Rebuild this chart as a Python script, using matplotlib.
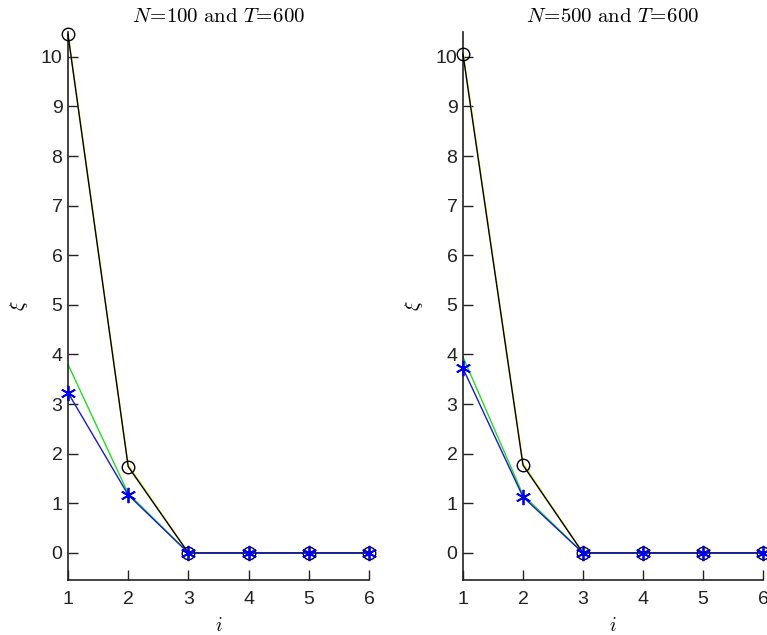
import matplotlib
matplotlib.use("Agg")
import matplotlib.pyplot as plt

plt.rcParams['mathtext.fontset'] = 'cm'

i_vals = [1, 2, 3, 4, 5, 6]

titles = [r"$N\!=\!100\ \mathrm{and}\ T\!=\!600$", r"$N\!=\!500\ \mathrm{and}\ T\!=\!600$"]

# left panel (N=100)
black_left = [10.45, 1.74, 0, 0, 0, 0]
yellow_left = [10.48, 1.77, 0, 0, 0, 0]
green_left = [3.8, 1.2, 0, 0, 0, 0]
blue_left = [3.23, 1.17, 0, 0, 0, 0]

# right panel (N=500)
black_right = [10.05, 1.77, 0, 0, 0, 0]
yellow_right = [10.1, 1.8, 0, 0, 0, 0]
green_right = [3.95, 1.17, 0, 0, 0, 0]
blue_right = [3.72, 1.13, 0, 0, 0, 0]

yticks = list(range(0, 11))
xticks = [1, 2, 3, 4, 5, 6]

fig = plt.figure(figsize=(7.67, 6.35), dpi=100)
positions = [
    [68/767, 55/635, 301/767, 548/635],
    [463/767, 55/635, 300/767, 548/635],
]
panels = [
    (black_left, yellow_left, green_left, blue_left),
    (black_right, yellow_right, green_right, blue_right),
]

for pos, title, (bk, yl, gr, bl) in zip(positions, titles, panels):
    ax = fig.add_axes(pos)
    ax.plot(i_vals, yl, color='#e8e800', lw=1.0, zorder=2)
    ax.plot(i_vals, bk, color='black', lw=1.0, marker='o', markersize=9,
            markerfacecolor='none', markeredgecolor='black', markeredgewidth=1.0, zorder=3)
    ax.plot(i_vals, gr, color='#22dd22', lw=1.0, zorder=2)
    ax.plot(i_vals, bl, color='#1a1acc', lw=1.0, marker=(6, 2, 0), markersize=11,
            markeredgecolor='#0000ee', markeredgewidth=1.3, zorder=4)
    ax.set_xlim(1, 6)
    ax.set_ylim(-0.545, 10.5)
    ax.set_xticks(xticks)
    ax.set_yticks(yticks)
    ax.spines['top'].set_visible(False)
    ax.spines['right'].set_visible(False)
    for s in ('left', 'bottom'):
        ax.spines[s].set_linewidth(1.2)
        ax.spines[s].set_color('#222222')
    ax.tick_params(direction='in', length=7, width=1.0, labelsize=14,
                   colors='#222222')
    for lab in ax.get_xticklabels() + ax.get_yticklabels():
        lab.set_fontfamily('Liberation Sans')
    ax.tick_params(axis='x', pad=8)
    ax.tick_params(axis='y', pad=4)
    ax.set_title(title, fontsize=15, pad=7)
    ax.set_xlabel(r"$i$", fontsize=14, labelpad=6)
    ax.set_ylabel(r"$\xi$", fontsize=14, labelpad=8, rotation=90)
    for line in ax.lines:
        line.set_clip_on(False)

fig.savefig("out.png", dpi=100)
